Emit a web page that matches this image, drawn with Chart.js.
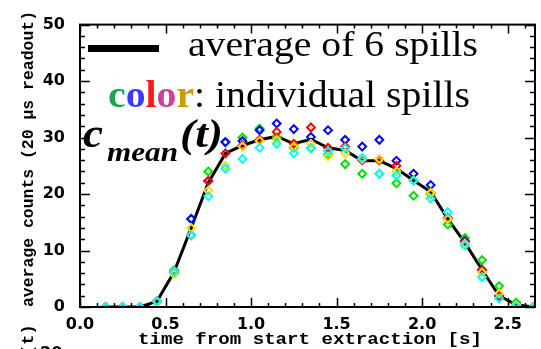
<!DOCTYPE html>
<html lang="en">
<head>
    <meta charset="UTF-8">
    <title>Average counts per spill</title>
    <script src="https://cdn.jsdelivr.net/npm/chart.js"></script>
    <style>
        html, body { margin: 0; padding: 0; background: #fff; }
        #wrap { position: relative; width: 541px; height: 349px; }
    </style>
</head>
<body>
    <div id="wrap"><canvas id="spillChart" width="541" height="349"></canvas></div>

    <script>
        // time bins (s) and counts
        const times = [0.15, 0.25, 0.35, 0.45, 0.55, 0.65, 0.75, 0.85, 0.95, 1.05, 1.15, 1.25, 1.35,
                       1.45, 1.55, 1.65, 1.75, 1.85, 1.95, 2.05, 2.15, 2.25, 2.35, 2.45, 2.55, 2.65];
        const average = [0, 0, 0, 1.0, 6.2, 14.0, 22.0, 27.2, 28.6, 29.6, 30.2, 28.9, 29.7,
                         28.2, 27.7, 25.9, 25.9, 24.5, 22.4, 20.4, 15.6, 11.4, 6.6, 2.0, 0.4, 0];
        const spillGreen = [0, 0, 0, 1.0, 6.5, 15.6, 24.0, 29.2, 30.0, 31.6, 30.1, 28.2, 28.1,
                            27.0, 25.3, 23.6, 23.6, 21.9, 19.7, 20.0, 14.6, 12.2, 8.3, 3.7, 0.8, 0];
        const spillBlue = [0, 0, 0, 1.0, 6.3, 15.6, 22.3, 29.2, 29.4, 31.3, 32.5, 31.5, 30.1,
                           31.3, 29.6, 28.4, 29.6, 25.9, 23.6, 21.6, 15.6, 11.7, 6.6, 2.0, 0.4, 0];
        const spillRed = [0, 0, 0, 1.0, 6.0, 12.7, 22.3, 27.2, 28.6, 29.6, 31.0, 28.9, 31.8,
                          28.2, 28.4, 26.0, 26.0, 25.0, 22.4, 20.2, 15.8, 11.4, 6.5, 2.0, 0.4, 0];
        const spillYellow = [0, 0, 0, 1.0, 5.8, 14.0, 20.6, 25.0, 28.4, 29.4, 29.6, 28.4, 28.9,
                             26.7, 27.2, 26.2, 26.2, 24.0, 22.4, 20.2, 15.6, 11.2, 6.1, 2.4, 0.4, 0];
        const spillCyan = [0, 0, 0, 1.0, 6.3, 12.7, 19.6, 24.5, 26.2, 28.2, 28.9, 27.2, 28.1,
                           27.6, 28.1, 26.4, 23.6, 23.3, 22.4, 19.2, 16.8, 10.9, 5.3, 1.5, 0.2, 0];
        const xTickStep = 0.5;
        const yTickStep = 10;

        function toPoints(values) {
            return times.map((t, i) => ({ x: t, y: values[i] }));
        }

        function spillDataset(label, values, color) {
            return {
                label: label,
                data: toPoints(values),
                showLine: false,
                pointStyle: "rectRot",
                pointRadius: 3.9,
                pointBorderWidth: 2,
                pointBorderColor: color,
                pointBackgroundColor: "rgba(255,255,255,0)"
            };
        }

        // draws text squeezed/stretched to a given width
        function fitText(ctx, text, x, y, width) {
            const w = ctx.measureText(text).width;
            ctx.save();
            ctx.translate(x, y);
            ctx.scale(width / w, 1);
            ctx.fillText(text, 0, 0);
            ctx.restore();
        }

        const framePlugin = {
            id: "frameAndText",
            afterDraw(chart) {
                const ctx = chart.ctx;
                const a = chart.chartArea;
                const xs = chart.scales.x;
                const ys = chart.scales.y;

                ctx.save();
                ctx.strokeStyle = "#000";
                ctx.lineWidth = 2;
                ctx.strokeRect(a.left, a.top, a.right - a.left, a.bottom - a.top);

                // inward ticks on all four sides
                ctx.lineWidth = 1.5;
                ctx.beginPath();
                for (let i = 0; i <= 26; i++) {
                    const px = Math.round(xs.getPixelForValue(i / 10)) + 0.5;
                    const len = i % 5 === 0 ? 9 : 4;
                    ctx.moveTo(px, a.bottom); ctx.lineTo(px, a.bottom - len);
                    ctx.moveTo(px, a.top); ctx.lineTo(px, a.top + len);
                }
                for (let v = 0; v <= 50; v += 2) {
                    const py = Math.round(ys.getPixelForValue(v)) + 0.5;
                    const len = v % 10 === 0 ? 10 : 5;
                    ctx.moveTo(a.left, py); ctx.lineTo(a.left + len, py);
                    ctx.moveTo(a.right, py); ctx.lineTo(a.right - len, py);
                }
                ctx.stroke();

                ctx.fillStyle = "#000";
                // axis titles
                ctx.font = "bold 17px 'Liberation Mono'";
                fitText(ctx, "time from start extraction [s]", 138, 344, 344);
                ctx.save();
                ctx.translate(33, 307);
                ctx.rotate(-Math.PI / 2);
                ctx.font = "bold 17px 'Liberation Mono'";
                fitText(ctx, "average counts (20 \u03bcs readout)", 0, 0, 296);
                ctx.restore();

                // fragments of the panel below
                ctx.font = "bold 16px 'DejaVu Sans'";
                ctx.fillText("20", 40, 358);
                ctx.save();
                ctx.translate(33, 349);
                ctx.rotate(-Math.PI / 2);
                ctx.font = "bold 17px 'Liberation Mono'";
                ctx.fillText("(t)", -6, 0);
                ctx.restore();

                // legend
                ctx.fillRect(88, 45, 71, 7);
                ctx.font = "36px 'Liberation Serif'";
                fitText(ctx, "average of 6 spills", 188, 56, 290);

                const parts = [
                    ["c", "#1aa64a", "bold"], ["o", "#3b3bff", "bold"], ["l", "#ff1a1a", "bold"],
                    ["o", "#d0409a", "bold"], ["r", "#cc9a0a", "bold"], [": individual spills", "#000", "normal"]
                ];
                let total = 0;
                parts.forEach(p => {
                    ctx.font = p[2] + " 38px 'Liberation Serif'";
                    total += ctx.measureText(p[0]).width;
                });
                const sx = 362 / total;
                let cx = 0;
                ctx.save();
                ctx.translate(108, 107);
                ctx.scale(sx, 1);
                parts.forEach(p => {
                    ctx.font = p[2] + " 38px 'Liberation Serif'";
                    ctx.fillStyle = p[1];
                    ctx.fillText(p[0], cx, 0);
                    cx += ctx.measureText(p[0]).width;
                });
                ctx.restore();

                // c_mean(t)
                ctx.fillStyle = "#000";
                ctx.font = "bold italic 42px 'Liberation Serif'";
                fitText(ctx, "c", 83, 147, 20);
                ctx.font = "bold italic 27px 'Liberation Serif'";
                fitText(ctx, "mean", 107, 161, 71);
                ctx.font = "bold italic 40px 'Liberation Serif'";
                fitText(ctx, "(t)", 180, 147, 43);
                ctx.restore();
            }
        };

        const tickFont = { family: "'DejaVu Sans'", size: 16, weight: "bold" };

        new Chart(document.getElementById("spillChart"), {
            type: "scatter",
            data: {
                datasets: [
                    spillDataset("spill cyan", spillCyan, "#00ffff"),
                    spillDataset("spill yellow", spillYellow, "#ffe000"),
                    spillDataset("spill red", spillRed, "#ff0000"),
                    spillDataset("spill blue", spillBlue, "#0000ff"),
                    spillDataset("spill green", spillGreen, "#00e000"),
                    {
                        label: "average of 6 spills",
                        data: toPoints(average),
                        showLine: true,
                        borderColor: "#000",
                        borderWidth: 3,
                        tension: 0,
                        pointRadius: 1.5,
                        pointBackgroundColor: "#000",
                        pointBorderWidth: 0
                    }
                ]
            },
            options: {
                responsive: false,
                devicePixelRatio: 1,
                animation: false,
                layout: { padding: { top: 13, right: 1, left: 0, bottom: 0 } },
                plugins: { legend: { display: false }, tooltip: { enabled: false } },
                scales: {
                    x: {
                        type: "linear",
                        min: 0,
                        max: 2.66,
                        grid: { display: false, drawTicks: false },
                        border: { display: false },
                        ticks: {
                            stepSize: xTickStep,
                            includeBounds: false,
                            autoSkip: false,
                            maxRotation: 0,
                            padding: 8,
                            color: "#000",
                            font: tickFont,
                            callback: v => v.toFixed(1)
                        },
                        afterFit: s => { s.height = 42; }
                    },
                    y: {
                        min: 0,
                        max: 50,
                        grid: { display: false, drawTicks: false },
                        border: { display: false },
                        ticks: {
                            stepSize: yTickStep,
                            padding: 15,
                            color: "#000",
                            font: tickFont
                        },
                        afterFit: s => { s.width = 80; }
                    }
                }
            },
            plugins: [framePlugin]
        });
    </script>
</body>
</html>
